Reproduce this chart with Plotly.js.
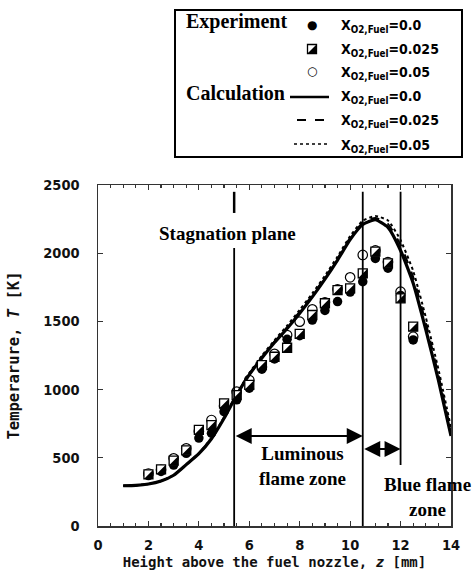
<!DOCTYPE html>
<html>
<head>
<meta charset="utf-8">
<script src="https://cdn.plot.ly/plotly-3.0.1.min.js"></script>
<style>
html,body{margin:0;padding:0;background:#fff;}
#chart{width:473px;height:578px;}
</style>
</head>
<body>
<div id="chart"></div>
<script>
// ---- Experimental data (symbols) ----
const zExp = [2, 2.5, 3, 3.5, 4, 4.5, 5, 5.5, 6, 6.5, 7, 7.5, 8, 8.5, 9, 9.5, 10, 10.5, 11, 11.5, 12, 12.5];
const tExp000 = [370, 400, 447, 533, 645, 680, 838, 925, 1010, 1150, 1225, 1369, 1395, 1510, 1580, 1645, 1715, 1791, 1962, 1890, 1690, 1364];
const tExp025 = [378, 415, 479, 555, 704, 740, 899, 960, 1034, 1180, 1241, 1307, 1408, 1547, 1633, 1730, 1742, 1852, 2011, 1926, 1669, 1461];
const tExp050 = [385, 412, 496, 569, 695, 777, 880, 985, 1070, 1165, 1262, 1400, 1498, 1588, 1640, 1735, 1823, 1987, 2020, 1935, 1718, 1388];

// ---- Calculation (lines) ----
const zCalc = [1, 1.5, 2, 2.5, 3, 3.5, 4, 4.5, 5, 5.5, 6, 6.5, 7, 7.5, 8, 8.5, 9, 9.5, 10, 10.5, 11, 11.5, 12, 12.5, 13, 13.5, 14];
const tCalc000 = [295, 298, 308, 330, 372, 450, 530, 640, 790, 960, 1110, 1232, 1345, 1448, 1560, 1680, 1810, 1950, 2100, 2210, 2245, 2190, 2020, 1780, 1440, 1070, 660];
const tCalc025 = [295, 298, 308, 330, 372, 450, 530, 642, 793, 964, 1116, 1240, 1353, 1458, 1572, 1692, 1822, 1962, 2112, 2225, 2258, 2215, 2060, 1825, 1490, 1110, 690];
const tCalc050 = [295, 298, 308, 330, 372, 450, 532, 645, 797, 968, 1122, 1248, 1362, 1469, 1584, 1705, 1835, 1975, 2125, 2238, 2272, 2240, 2095, 1870, 1530, 1150, 720];

// ---- Zone boundaries & labels ----
const zStagnation = 5.4;
const zLuminousEnd = 10.5;
const zBlueEnd = 12.0;
const legendLabels = ['0.0', '0.025', '0.05'];

const xTickVals = [0, 2, 4, 6, 8, 10, 12, 14];
const yTickVals = [0, 500, 1000, 1500, 2000, 2500];

const tickFont = {family: '"DejaVu Sans Condensed", "Liberation Sans Narrow", sans-serif', size: 14.5, color: '#111', weight: 'bold'};
const xTitleFont = {family: '"DejaVu Sans Mono", monospace', size: 14, color: '#111', weight: 'bold'};
const yTitleFont = {family: '"DejaVu Sans Mono", monospace', size: 15.5, color: '#111', weight: 'bold'};
const serifFont = {family: '"Liberation Serif", "Times New Roman", serif', size: 19, color: '#000', weight: 'bold'};
const labFont = {family: '"DejaVu Sans Condensed", sans-serif', size: 14, color: '#000', weight: 'bold'};

// plot-area geometry in pixels (for paper-coordinate placement of the legend box)
const L = 98, R = 22, T = 185, B = 52, W = 473, H = 578;
const pw = W - L - R, ph = H - T - B;
const px = v => (v - L) / pw;
const py = v => (H - B - v) / ph;

const HALF = 'M-4.5,-4.5 L4.5,-4.5 L4.5,4.5 Z'; // filled lower-right half of the square symbol

const traces = [
  {x: zCalc, y: tCalc000, mode: 'lines', line: {color: '#000', width: 3.2, shape: 'spline', smoothing: 0.5}, showlegend: false, hoverinfo: 'skip'},
  {x: zCalc, y: tCalc025, mode: 'lines', line: {color: '#000', width: 2, dash: 'dash', shape: 'spline', smoothing: 0.5}, showlegend: false, hoverinfo: 'skip'},
  {x: zCalc, y: tCalc050, mode: 'lines', line: {color: '#000', width: 2, dash: 'dot', shape: 'spline', smoothing: 0.5}, showlegend: false, hoverinfo: 'skip'},
  {x: zExp, y: tExp000, mode: 'markers', marker: {symbol: 'circle', size: 9.5, color: '#000'}, showlegend: false},
  {x: zExp, y: tExp050, mode: 'markers', marker: {symbol: 'circle-open', size: 9.5, color: '#000', line: {width: 1.2, color: '#000'}}, showlegend: false},
  {x: zExp, y: tExp025, mode: 'markers', marker: {symbol: 'square', size: 9, color: '#fff', line: {width: 1.3, color: '#000'}}, showlegend: false}
];

const shapes = [
  // zone boundary lines
  {type: 'line', xref: 'x', yref: 'y', x0: zStagnation, x1: zStagnation, y0: 2295, y1: 2450, line: {color: '#000', width: 2.5}},
  {type: 'line', xref: 'x', yref: 'y', x0: zStagnation, x1: zStagnation, y0: 0, y1: 2038, line: {color: '#000', width: 1.8}},
  {type: 'line', xref: 'x', yref: 'y', x0: zLuminousEnd, x1: zLuminousEnd, y0: 0, y1: 2450, line: {color: '#000', width: 1.8}},
  {type: 'line', xref: 'x', yref: 'y', x0: zBlueEnd, x1: zBlueEnd, y0: 447, y1: 2450, line: {color: '#000', width: 1.8}},
  // legend box
  {type: 'rect', xref: 'paper', yref: 'paper', x0: px(175), x1: px(462), y0: py(157), y1: py(10), line: {color: '#000', width: 2}, fillcolor: 'rgba(0,0,0,0)'},
  // legend line samples
  {type: 'line', xref: 'paper', yref: 'paper', x0: px(290), x1: px(329), y0: py(97), y1: py(97), line: {color: '#000', width: 2.5}},
  {type: 'line', xref: 'paper', yref: 'paper', x0: px(297), x1: px(329), y0: py(120), y1: py(120), line: {color: '#000', width: 2, dash: 'dash'}},
  {type: 'line', xref: 'paper', yref: 'paper', x0: px(294), x1: px(330), y0: py(144), y1: py(144), line: {color: '#000', width: 1.5, dash: 'dot'}},
  // legend half-filled square
  {type: 'rect', xref: 'paper', yref: 'paper', xsizemode: 'pixel', ysizemode: 'pixel', xanchor: px(312), yanchor: py(49),
   x0: -4.5, x1: 4.5, y0: -4.5, y1: 4.5, line: {color: '#000', width: 1.3}, fillcolor: '#fff'},
  {type: 'path', xref: 'paper', yref: 'paper', xsizemode: 'pixel', ysizemode: 'pixel', xanchor: px(312), yanchor: py(49),
   path: HALF, line: {width: 0}, fillcolor: '#000'}
];
// filled halves of the half-filled square symbols, anchored on the data points
zExp.forEach((zz, i) => {
  shapes.push({type: 'path', xref: 'x', yref: 'y', xsizemode: 'pixel', ysizemode: 'pixel', xanchor: zz, yanchor: tExp025[i],
    path: HALF, line: {width: 0}, fillcolor: '#000'});
});

const legendRowsY = [26, 50, 73, 97, 121, 146];
const annotations = [
  {xref: 'x', yref: 'y', x: 5.12, y: 2148, text: 'Stagnation plane', showarrow: false, font: serifFont, xanchor: 'center', yanchor: 'middle'},
  {xref: 'x', yref: 'y', x: 8.1, y: 440, text: 'Luminous<br>flame zone', showarrow: false, font: serifFont, xanchor: 'center', yanchor: 'middle'},
  {xref: 'x', yref: 'y', x: 13.05, y: 213, text: 'Blue flame<br>zone', showarrow: false, font: serifFont, xanchor: 'center', yanchor: 'middle'},
  // double-headed arrows
  {xref: 'x', yref: 'y', axref: 'x', ayref: 'y', x: zLuminousEnd, y: 660, ax: zStagnation, ay: 660, text: '', showarrow: true,
   arrowside: 'end+start', arrowhead: 2, arrowsize: 1.6, arrowwidth: 2, arrowcolor: '#000', standoff: 0, startstandoff: 0},
  {xref: 'x', yref: 'y', axref: 'x', ayref: 'y', x: zBlueEnd, y: 565, ax: zLuminousEnd, ay: 565, text: '', showarrow: true,
   arrowside: 'end+start', arrowhead: 2, arrowsize: 1.6, arrowwidth: 2, arrowcolor: '#000', standoff: 0, startstandoff: 0},
  // legend texts
  {xref: 'paper', yref: 'paper', x: px(184), y: py(21), text: 'Experiment', showarrow: false, font: Object.assign({}, serifFont, {size: 20}), xanchor: 'left', yanchor: 'middle'},
  {xref: 'paper', yref: 'paper', x: px(184), y: py(93), text: 'Calculation', showarrow: false, font: Object.assign({}, serifFont, {size: 20}), xanchor: 'left', yanchor: 'middle'},
  {xref: 'paper', yref: 'paper', x: px(312), y: py(25), text: '\u25CF', showarrow: false, font: {family: '"DejaVu Sans"', size: 12, color: '#000'}, xanchor: 'center', yanchor: 'middle'},
  {xref: 'paper', yref: 'paper', x: px(312), y: py(71), text: '\u25CB', showarrow: false, font: {family: '"DejaVu Sans"', size: 12, color: '#000'}, xanchor: 'center', yanchor: 'middle'}
];
legendRowsY.forEach((yy, i) => {
  annotations.push({xref: 'paper', yref: 'paper', x: px(339), y: py(yy),
    text: 'X<sub>O2,Fuel</sub>=' + legendLabels[i % 3], showarrow: false, font: labFont, xanchor: 'left', yanchor: 'middle'});
});

const layout = {
  width: W, height: H,
  margin: {l: L, r: R, t: T, b: B},
  paper_bgcolor: '#fff', plot_bgcolor: '#fff',
  showlegend: false,
  xaxis: {
    range: [0, 14], tickvals: xTickVals, ticks: 'inside', ticklen: 5, tickwidth: 1.2, tickcolor: '#333',
    minor: {dtick: 0.5, ticks: 'inside', ticklen: 3, tickcolor: '#333'},
    showline: true, linecolor: '#333', linewidth: 1.5, mirror: 'ticks', showgrid: false, zeroline: false,
    tickfont: tickFont, ticklabelstandoff: 5,
    title: {text: '\u00A0\u00A0\u00A0\u00A0Height above the fuel nozzle, <i>z</i> [mm]', font: xTitleFont, standoff: 5}
  },
  yaxis: {
    range: [0, 2500], tickvals: yTickVals, ticks: 'inside', ticklen: 5, tickwidth: 1.2, tickcolor: '#333',
    showline: true, linecolor: '#333', linewidth: 1.5, mirror: 'ticks', showgrid: false, zeroline: false,
    tickfont: tickFont, ticklabelstandoff: 14,
    title: {text: 'Temperarure, <i>T</i> [K]\u00A0\u00A0\u00A0', font: yTitleFont, standoff: 20}
  },
  shapes: shapes,
  annotations: annotations
};

Plotly.newPlot('chart', traces, layout, {displayModeBar: false, staticPlot: true});
</script>
</body>
</html>
